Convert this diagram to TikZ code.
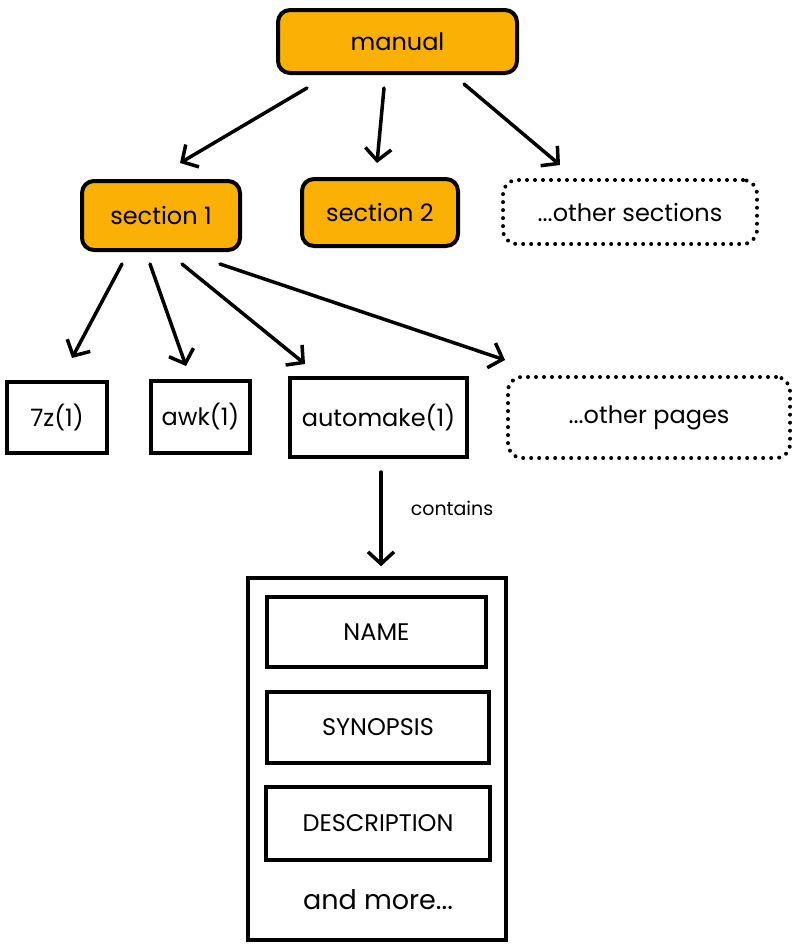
\documentclass[tikz,border=0pt]{standalone}
\usepackage{fontspec}
\setmainfont{Poppins}
\usetikzlibrary{arrows.meta}
\definecolor{exyellow}{HTML}{FAB005}
\tikzset{
  base/.style={draw=black, line width=4pt, inner sep=0pt, align=center,
    font=\fontsize{24}{28}\selectfont},
  secbox/.style={base, fill=exyellow, rounded corners=12pt},
  dotbox/.style={base, line width=4pt, line cap=round, dash pattern=on 0pt off 8pt, rounded corners=14pt},
  pagebox/.style={base},
  arr/.style={line width=3.5pt, line cap=round, -{Straight Barb[length=12pt,width=26pt,line width=3.5pt]}},
  lbl/.style={font=\fontsize{19}{22}\selectfont, inner sep=0pt}
}
\begin{document}
\begin{tikzpicture}[x=1pt,y=-1pt]
\useasboundingbox (0,0) rectangle (800,946);
\node[secbox, minimum width=239pt, minimum height=63pt] (manual) at (397.5,41.5) {manual};
\node[secbox, minimum width=158pt, minimum height=69pt] (sec1) at (161,215.5) {section 1};
\node[secbox, minimum width=156pt, minimum height=67pt] (sec2) at (380,212.5) {section 2};
\node[dotbox, minimum width=254pt, minimum height=64pt] (osec) at (630,212) {...other sections};
\node[pagebox, minimum width=100pt, minimum height=71pt] (p7z) at (57,417.5) {7z(1)};
\node[pagebox, minimum width=99pt, minimum height=72pt] (awk) at (200.5,417) {awk(1)};
\node[pagebox, minimum width=177pt, minimum height=79pt] (automake) at (378.5,417.5) {automake(1)};
\node[dotbox, minimum width=282pt, minimum height=81pt] (opages) at (649,417.5) {...other pages};
\node[pagebox, line width=3.5pt, minimum width=258pt, minimum height=362pt] (cont) at (377,759) {};
\node[pagebox, minimum width=219pt, minimum height=70pt] (name) at (376.5,632) {NAME};
\node[pagebox, minimum width=222pt, minimum height=71pt] (syn) at (378,727.5) {SYNOPSIS};
\node[pagebox, minimum width=224pt, minimum height=73pt] (desc) at (378,823.5) {DESCRIPTION};
\node[base, draw=none, font=\fontsize{27}{31}\selectfont] (more) at (378,900) {and more...};
\node[lbl] (contains) at (452,508) {contains};

\draw[arr] ([shift={(-90.5,13)}]manual.south) -- ([shift={(19,-16)}]sec1.north);
\draw[arr] ([shift={(-13.5,13)}]manual.south) -- ([shift={(-3,-14)}]sec2.north);
\draw[arr] ([shift={(66.5,9)}]manual.south) -- ([shift={(-70,-13)}]osec.north);
\draw[arr] ([shift={(-39,12)}]sec1.south) -- ([shift={(15,-22)}]p7z.north);
\draw[arr] ([shift={(-11,12)}]sec1.south) -- ([shift={(-14.5,-13)}]awk.north);
\draw[arr] ([shift={(21,12)}]sec1.south) -- ([shift={(-73.5,-12)}]automake.north);
\draw[arr] ([shift={(59,12)}]sec1.south) -- ([shift={(-144,-15)}]opages.north);
\draw[arr] ([shift={(2.5,13)}]automake.south) -- ([shift={(4,-10)}]cont.north);
\end{tikzpicture}
\end{document}
